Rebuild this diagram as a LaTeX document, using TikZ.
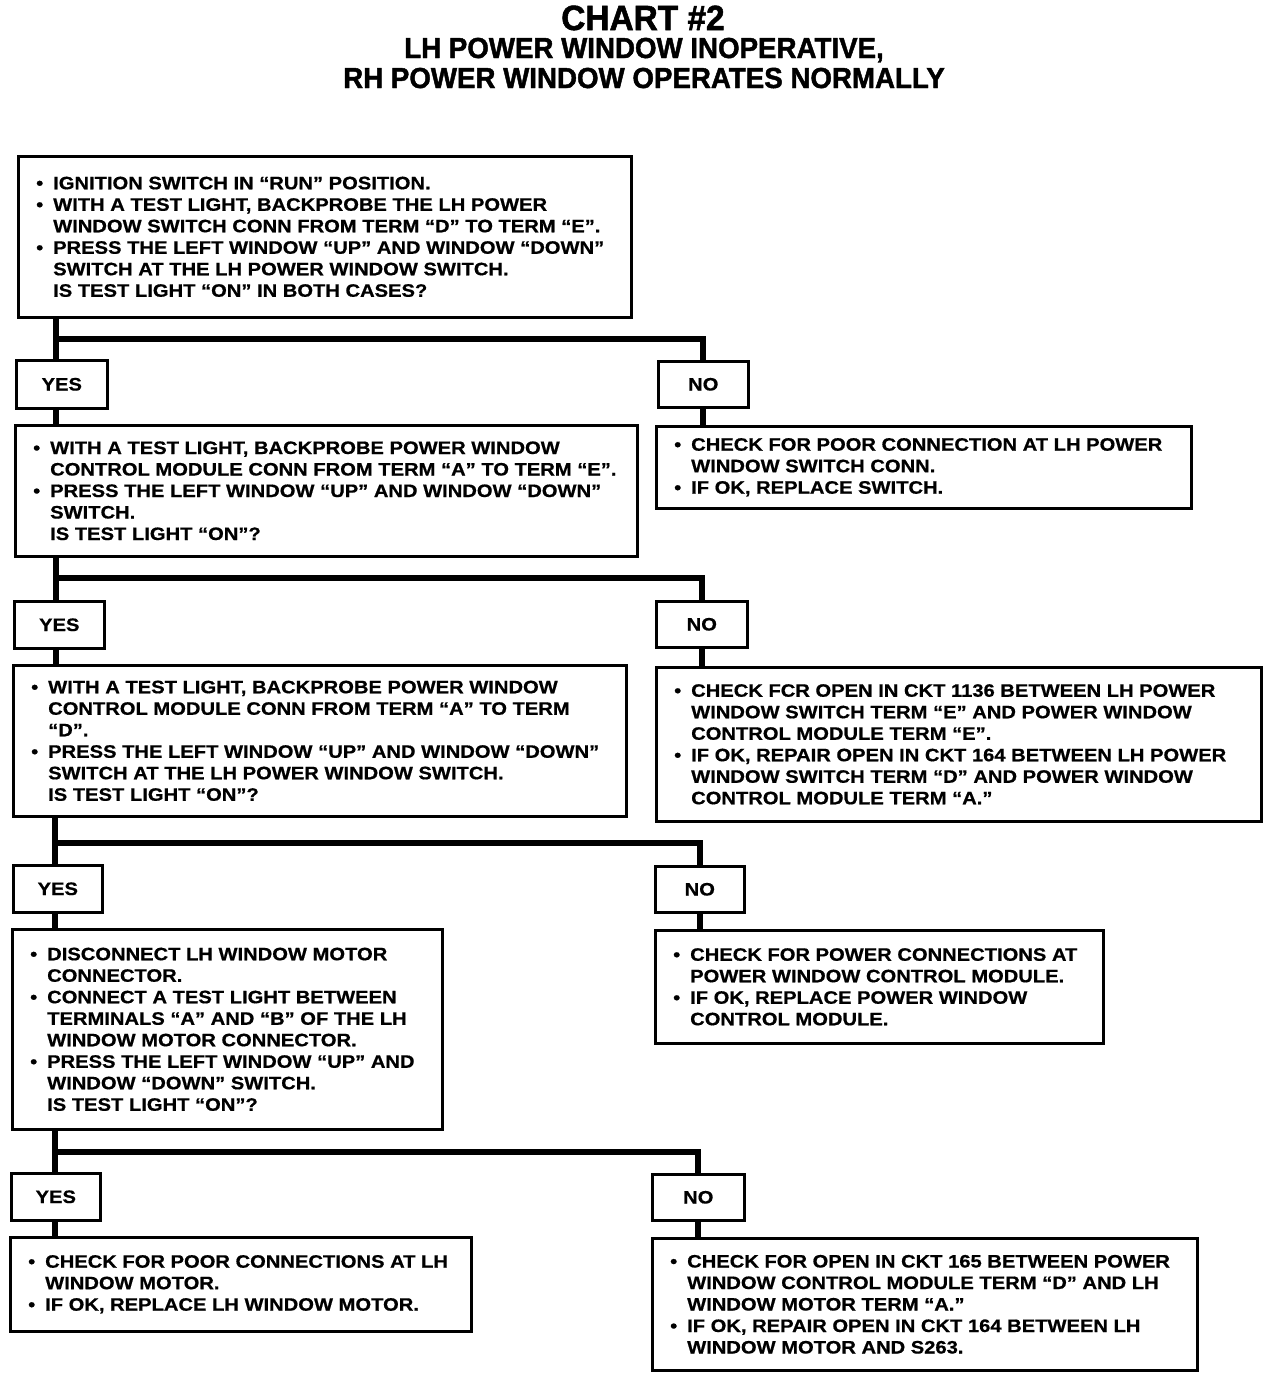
\documentclass[tikz,border=0pt]{standalone}
\usepackage{fontspec}
\setmainfont{Liberation Sans}[FakeStretch=1.12, FakeBold=0.7]
\newfontfamily\ttlfont{Liberation Sans}[FakeStretch=0.955, FakeBold=1.5]
\newcommand\bodyfont{\fontsize{18}{21.5}\selectfont\bfseries}
\newcommand\bu{\makebox[17pt][l]{•}}
\newcommand\hi{\hspace*{17pt}}
\begin{document}
\begin{tikzpicture}[x=1pt,y=-1pt,
  box/.style={draw, line width=2.6pt, inner sep=0pt, anchor=north west},
  txt/.style={anchor=west, align=left, inner xsep=19pt, inner ysep=0pt, font=\bodyfont},
  tag/.style={draw, line width=2.6pt, inner sep=0pt, anchor=north west, font=\bodyfont},
  conn/.style={line width=6pt, line join=miter},
  ttlA/.style={anchor=base, font={\ttlfont\fontsize{35}{40}\selectfont\bfseries}},
  ttlB/.style={anchor=base, font={\ttlfont\fontsize{29}{34}\selectfont\bfseries}}]
\useasboundingbox (0,0) rectangle (1280,1382);

% titles
\node[ttlA] (title1) at (643,30) {CHART \#2};
\node[ttlB] (title2) at (644,58) {LH POWER WINDOW INOPERATIVE,};
\node[ttlB] (title3) at (644,88) {RH POWER WINDOW OPERATES NORMALLY};

% level 1
\node[box, minimum width=613pt, minimum height=161pt] (q1) at (17,155) {};
\node[txt] (q1t) at (q1.west) {\bu IGNITION SWITCH IN “RUN” POSITION.\\
\bu WITH A TEST LIGHT, BACKPROBE THE LH POWER\\
\hi WINDOW SWITCH CONN FROM TERM “D” TO TERM “E”.\\
\bu PRESS THE LEFT WINDOW “UP” AND WINDOW “DOWN”\\
\hi SWITCH AT THE LH POWER WINDOW SWITCH.\\
\hi IS TEST LIGHT “ON” IN BOTH CASES?};
\node[tag, minimum width=91pt, minimum height=48pt] (y1) at (15,359) {YES};
\node[tag, minimum width=90pt, minimum height=46pt] (n1) at (657,360) {NO};

% level 2
\node[box, minimum width=622pt, minimum height=131pt] (q2) at (14,424) {};
\node[txt] (q2t) at (q2.west) {\bu WITH A TEST LIGHT, BACKPROBE POWER WINDOW\\
\hi CONTROL MODULE CONN FROM TERM “A” TO TERM “E”.\\
\bu PRESS THE LEFT WINDOW “UP” AND WINDOW “DOWN”\\
\hi SWITCH.\\
\hi IS TEST LIGHT “ON”?};
\node[box, minimum width=535pt, minimum height=82pt] (r1) at (655,425) {};
\node[txt] (r1t) at (r1.west) {\bu CHECK FOR POOR CONNECTION AT LH POWER\\
\hi WINDOW SWITCH CONN.\\
\bu IF OK, REPLACE SWITCH.};
\node[tag, minimum width=90pt, minimum height=47pt] (y2) at (13,600) {YES};
\node[tag, minimum width=91pt, minimum height=46pt] (n2) at (655,600) {NO};

% level 3
\node[box, minimum width=613pt, minimum height=151pt] (q3) at (12,664) {};
\node[txt] (q3t) at (q3.west) {\bu WITH A TEST LIGHT, BACKPROBE POWER WINDOW\\
\hi CONTROL MODULE CONN FROM TERM “A” TO TERM\\
\hi “D”.\\
\bu PRESS THE LEFT WINDOW “UP” AND WINDOW “DOWN”\\
\hi SWITCH AT THE LH POWER WINDOW SWITCH.\\
\hi IS TEST LIGHT “ON”?};
\node[box, minimum width=605pt, minimum height=154pt] (r2) at (655,666) {};
\node[txt] (r2t) at (r2.west) {\bu CHECK FCR OPEN IN CKT 1136 BETWEEN LH POWER\\
\hi WINDOW SWITCH TERM “E” AND POWER WINDOW\\
\hi CONTROL MODULE TERM “E”.\\
\bu IF OK, REPAIR OPEN IN CKT 164 BETWEEN LH POWER\\
\hi WINDOW SWITCH TERM “D” AND POWER WINDOW\\
\hi CONTROL MODULE TERM “A.”};
\node[tag, minimum width=89pt, minimum height=47pt] (y3) at (12,864) {YES};
\node[tag, minimum width=89pt, minimum height=46pt] (n3) at (654,865) {NO};

% level 4
\node[box, minimum width=430pt, minimum height=200pt] (q4) at (11,928) {};
\node[txt] (q4t) at (q4.west) {\bu DISCONNECT LH WINDOW MOTOR\\
\hi CONNECTOR.\\
\bu CONNECT A TEST LIGHT BETWEEN\\
\hi TERMINALS “A” AND “B” OF THE LH\\
\hi WINDOW MOTOR CONNECTOR.\\
\bu PRESS THE LEFT WINDOW “UP” AND\\
\hi WINDOW “DOWN” SWITCH.\\
\hi IS TEST LIGHT “ON”?};
\node[box, minimum width=448pt, minimum height=113pt] (r3) at (654,929) {};
\node[txt] (r3t) at (r3.west) {\bu CHECK FOR POWER CONNECTIONS AT\\
\hi POWER WINDOW CONTROL MODULE.\\
\bu IF OK, REPLACE POWER WINDOW\\
\hi CONTROL MODULE.};
\node[tag, minimum width=89pt, minimum height=47pt] (y4) at (10,1172) {YES};
\node[tag, minimum width=92pt, minimum height=46pt] (n4) at (651,1173) {NO};

% level 5
\node[box, minimum width=461pt, minimum height=94pt] (q5) at (9,1236) {};
\node[txt] (q5t) at (q5.west) {\bu CHECK FOR POOR CONNECTIONS AT LH\\
\hi WINDOW MOTOR.\\
\bu IF OK, REPLACE LH WINDOW MOTOR.};
\node[box, minimum width=545pt, minimum height=132pt] (r4) at (651,1237) {};
\node[txt] (r4t) at (r4.west) {\bu CHECK FOR OPEN IN CKT 165 BETWEEN POWER\\
\hi WINDOW CONTROL MODULE TERM “D” AND LH\\
\hi WINDOW MOTOR TERM “A.”\\
\bu IF OK, REPAIR OPEN IN CKT 164 BETWEEN LH\\
\hi WINDOW MOTOR AND S263.};

% junctions
\coordinate (j1) at (56,339);
\coordinate (j2) at (56,578);
\coordinate (j3) at (55,843);
\coordinate (j4) at (55,1152);

% connectors
\draw[conn] (q1.south -| j1) -- (y1.north -| j1);
\draw[conn] (j1) -| (n1.north);
\draw[conn] (y1.south -| j1) -- (q2.north -| j1);
\draw[conn] (n1.south) -- (r1.north -| n1.south);

\draw[conn] (q2.south -| j2) -- (y2.north -| j2);
\draw[conn] (j2) -| (n2.north);
\draw[conn] (y2.south -| j2) -- (q3.north -| j2);
\draw[conn] (n2.south) -- (r2.north -| n2.south);

\draw[conn] (q3.south -| j3) -- (y3.north -| j3);
\draw[conn] (j3) -| (n3.north);
\draw[conn] (y3.south -| j3) -- (q4.north -| j3);
\draw[conn] (n3.south) -- (r3.north -| n3.south);

\draw[conn] (q4.south -| j4) -- (y4.north -| j4);
\draw[conn] (j4) -| (n4.north);
\draw[conn] (y4.south -| j4) -- (q5.north -| j4);
\draw[conn] (n4.south) -- (r4.north -| n4.south);
\end{tikzpicture}
\end{document}
